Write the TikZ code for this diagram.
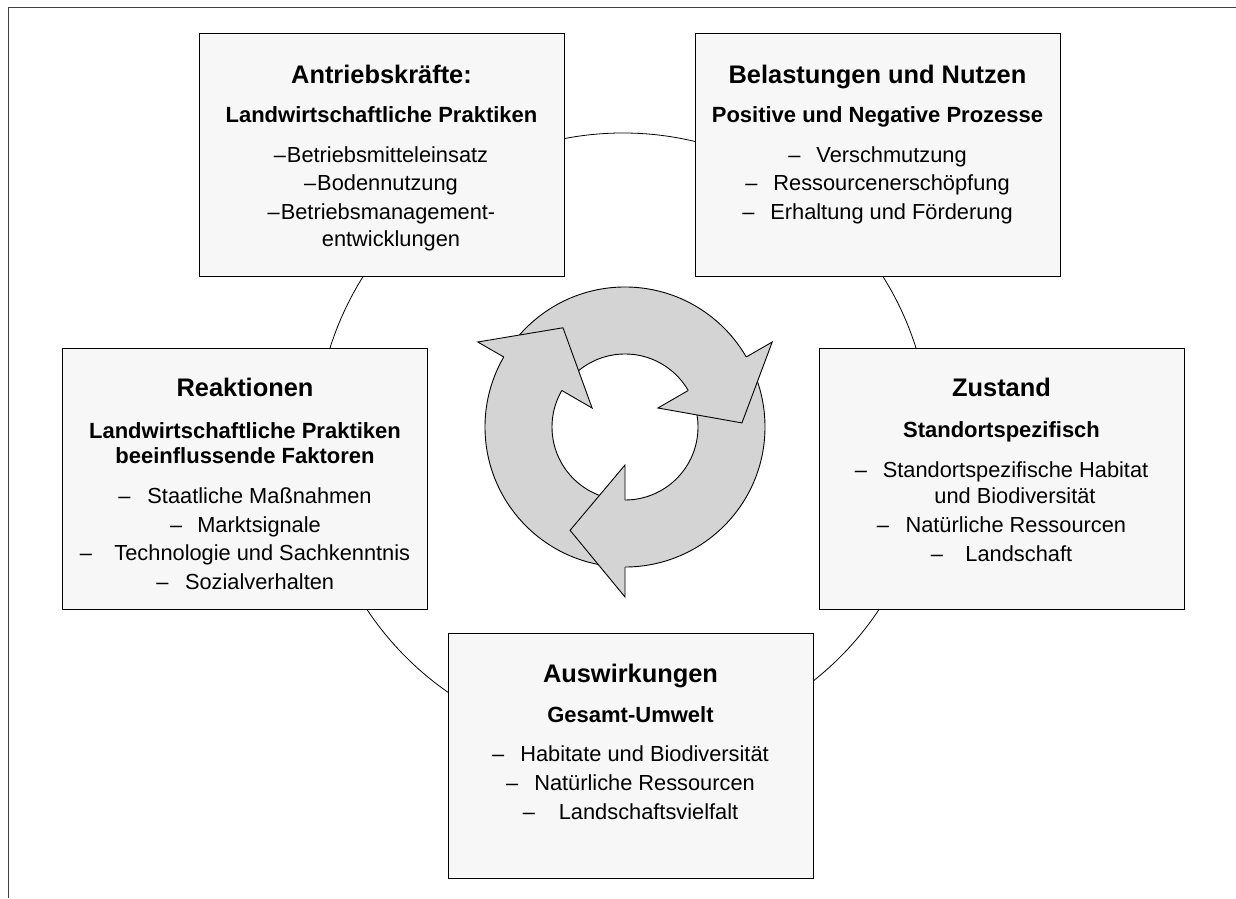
\documentclass[tikz,border=0pt]{standalone}
\usepackage{fontspec}
\setmainfont{Liberation Sans}
\definecolor{boxfill}{RGB}{247,247,247}
\definecolor{ringfill}{RGB}{212,212,212}
\definecolor{framecol}{RGB}{64,64,64}
\tikzset{
  box/.style={draw=black, line width=1pt, fill=boxfill, minimum width=365pt, inner sep=0pt},
  ttl/.style={font=\fontsize{25.4}{30}\selectfont\bfseries, anchor=base, inner sep=0pt},
  sub/.style={font=\fontsize{22}{26}\selectfont\bfseries, anchor=base, inner sep=0pt},
  bdy/.style={font=\fontsize{21.8}{26}\selectfont, anchor=base, inner sep=0pt},
}
\newcommand{\dg}[1]{–\hspace{#1pt}}
\begin{document}
\begin{tikzpicture}[x=1pt,y=1pt]
\useasboundingbox (0,0) rectangle (1236,898);
% outer frame (top and left visible)
\draw[framecol, line width=1.6pt] (1236,890.5) -- (8.5,890.5) -- (8.5,0);
% big thin circle
\draw[black, line width=0.8pt] (623,458) circle (307pt);
% boxes
\node[box, minimum height=243pt] (A) at (381.5,742.5) {};
\node[box, minimum height=243pt] (B) at (877.5,742.5) {};
\node[box, minimum height=260pt] (R) at (245,419) {};
\node[box, minimum height=260pt] (Z) at (1001.5,419) {};
\node[box, minimum height=245pt] (W) at (630.5,142.5) {};
% cycle arrows
\coordinate (C) at (625,471);
\begin{scope}[shift={(625,471)}]
  \draw[fill=ringfill, even odd rule, line width=0.9pt] (0,0) circle (140pt) (0,0) circle (73pt);
  \foreach \t in {30,-90,150}{
    \fill[ringfill] (\t:140pt) -- (\t:170pt) -- (\t-28:117pt) -- (\t:38pt) -- (\t:73pt) -- cycle;
    \draw[line width=0.9pt, line join=miter] (\t:140pt) -- (\t:170pt) -- (\t-28:117pt) -- (\t:38pt) -- (\t:73pt);
  }
\end{scope}
% texts A
\node[ttl] (a1) at (381.5,814) {Antriebskräfte:};
\node[sub] (a2) at (381.5,775) {Landwirtschaftliche Praktiken};
\node[bdy] (a3) at (381,735.7) {\dg{1}Betriebsmitteleinsatz};
\node[bdy] (a4) at (381,707) {\dg{1}Bodennutzung};
\node[bdy] (a5) at (381.5,678.3) {\dg{1}Betriebsmanagement-};
\node[bdy] (a6) at (391,651.8) {entwicklungen};
% texts B
\node[ttl] (b1) at (877.5,814) {Belastungen und Nutzen};
\node[sub] (b2) at (877.5,775) {Positive und Negative Prozesse};
\node[bdy] (b3) at (877.5,735.7) {\dg{16}Verschmutzung};
\node[bdy] (b4) at (877.5,707) {\dg{16}Ressourcenerschöpfung};
\node[bdy] (b5) at (877.5,678.3) {\dg{16}Erhaltung und Förderung};
% texts R
\node[ttl] (r1) at (245,501) {Reaktionen};
\node[sub] (r2) at (245,460) {Landwirtschaftliche Praktiken};
\node[sub] (r3) at (245,434.5) {beeinflussende Faktoren};
\node[bdy] (r4) at (245,394.7) {\dg{17}Staatliche Maßnahmen};
\node[bdy] (r5) at (245.5,366) {\dg{15}Marktsignale};
\node[bdy] (r6) at (245,337.3) {\dg{22.5}Technologie und Sachkenntnis};
\node[bdy] (r7) at (245.3,308.6) {\dg{16.5}Sozialverhalten};
% texts Z
\node[ttl] (z1) at (1001.5,501) {Zustand};
\node[sub] (z2) at (1001.5,460.5) {Standortspezifisch};
\node[bdy] (z3) at (1001.5,420.7) {\dg{16}Standortspezifische Habitat};
\node[bdy] (z4) at (1015,394.2) {und Biodiversität};
\node[bdy] (z5) at (1001.5,365.5) {\dg{16.5}Natürliche Ressourcen};
\node[bdy] (z6) at (1001.5,336.8) {\dg{22.5}Landschaft};
% texts W
\node[ttl] (w1) at (630.5,216) {Auswirkungen};
\node[sub] (w2) at (630.5,176) {Gesamt-Umwelt};
\node[bdy] (w3) at (630.5,136.3) {\dg{16}Habitate und Biodiversität};
\node[bdy] (w4) at (630.5,107.6) {\dg{16}Natürliche Ressourcen};
\node[bdy] (w5) at (630.5,78.9) {\dg{24}Landschaftsvielfalt};
\end{tikzpicture}
\end{document}
